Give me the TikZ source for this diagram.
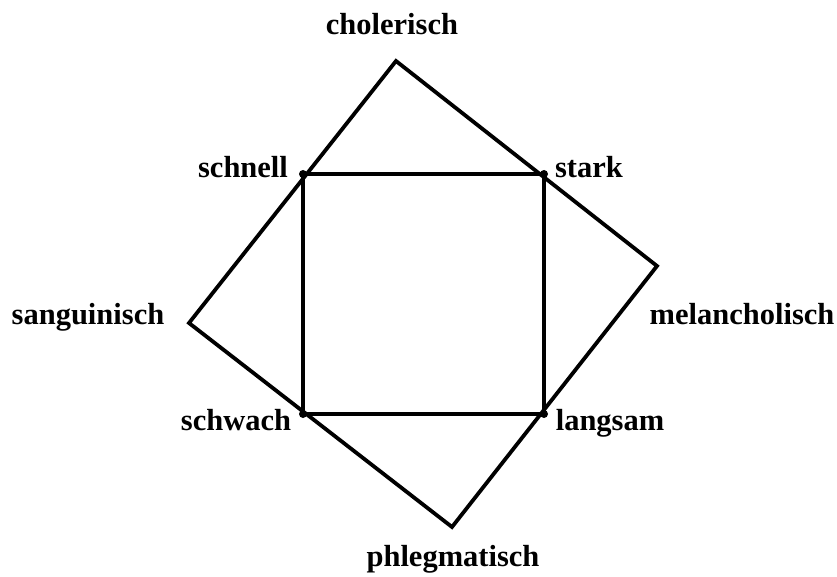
\documentclass[tikz,border=0pt]{standalone}
\usepackage{fontspec}
\setmainfont{Liberation Serif}
\begin{document}
\begin{tikzpicture}[x=1pt,y=-1pt,
  lbl/.style={font=\fontsize{30.5}{36}\selectfont\bfseries, inner sep=0pt, anchor=base},
  edge/.style={line width=3.8pt, line join=miter},
  dot/.style={circle, fill=black, inner sep=0pt, minimum size=8pt}]
\useasboundingbox (0,0) rectangle (837,577);
% outer quadrilateral
\coordinate (T) at (396,61);
\coordinate (R) at (657,266);
\coordinate (B) at (452,527);
\coordinate (L) at (189,323);
\draw[edge] (T) -- (R) -- (B) -- (L) -- cycle;
% inner square
\node[dot] (s1) at (303,174) {};
\node[dot] (s2) at (544,174) {};
\node[dot] (s3) at (544,414) {};
\node[dot] (s4) at (303,414) {};
\draw[edge] (s1.center) -- (s2.center) -- (s3.center) -- (s4.center) -- cycle;
% labels
\node[lbl] (cho) at (392,35) {cholerisch};
\node[lbl] (schnell) at (243,178) {schnell};
\node[lbl] (stark) at (589,178) {stark};
\node[lbl] (san) at (88,324) {sanguinisch};
\node[lbl] (mel) at (742,324) {melancholisch};
\node[lbl] (schwach) at (236,430) {schwach};
\node[lbl] (lang) at (610,430) {langsam};
\node[lbl] (phl) at (453,566) {phlegmatisch};
\end{tikzpicture}
\end{document}
